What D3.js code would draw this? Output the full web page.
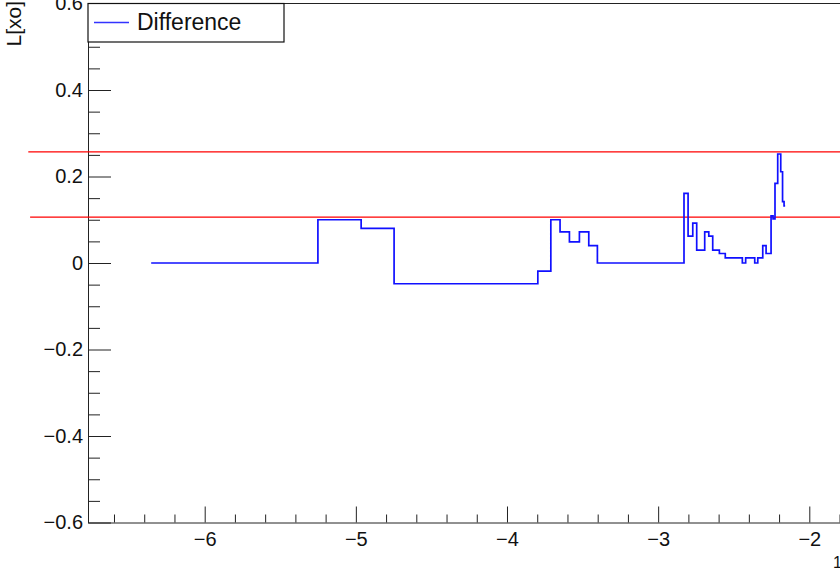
<!DOCTYPE html>
<html>
<head>
<meta charset="utf-8">
<script src="https://cdn.jsdelivr.net/npm/d3@7"></script>
<style>
  html, body { margin: 0; padding: 0; background: #fff; }
  svg { display: block; }
  text { font-family: "Liberation Sans", Arial, Helvetica, sans-serif; fill: #111; }
</style>
</head>
<body>
<svg id="chart" width="840" height="571"></svg>
<script>
// Step histogram: bin edges and the value held over each bin
const binEdges = [-6.354, -5.251, -4.965, -4.747, -3.796, -3.710, -3.649, -3.587, -3.521, -3.459,
  -3.402, -2.829, -2.802, -2.771, -2.745, -2.692, -2.665, -2.639, -2.595, -2.556,
  -2.443, -2.421, -2.361, -2.341, -2.308, -2.286, -2.253, -2.240, -2.227, -2.209,
  -2.189, -2.177, -2.167, -2.160];
const binValues = [0, 0.10, 0.08, -0.048, -0.019, 0.10, 0.072, 0.049, 0.072, 0.04,
  0, 0.161, 0.062, 0.092, 0.03, 0.072, 0.062, 0.03, 0.022, 0.012,
  0, 0.012, 0, 0.012, 0.04, 0.022, 0.109, 0.102, 0.184, 0.252,
  0.211, 0.142, 0.132];

// Horizontal reference levels and where each one starts
const refLevels = [0.257, 0.106];
const refStarts = [-7.167, -7.155];

const xMajorTicks = [-6, -5, -4, -3, -2];
const yMajorTicks = [-0.6, -0.4, -0.2, 0, 0.2, 0.4, 0.6];
const seriesName = "Difference";
const yTitle = "L[xo]";

const svg = d3.select("#chart");
const frameLeft = 88, frameBottom = 522.5, frameTop = 3.5, frameRight = 900;

const x = d3.scaleLinear().domain([-6.772, -1.40]).range([frameLeft, frameRight]);
const y = d3.scaleLinear().domain([-0.6, 0.6]).range([frameBottom, frameTop]);

const fmtY = d => d === 0 ? "0" : d3.format(".1f")(d);
const fmtX = d3.format("d");

// Top edge of the frame
svg.append("line").attr("x1", frameLeft).attr("x2", 840).attr("y1", frameTop).attr("y2", frameTop)
  .attr("stroke", "#222").attr("stroke-width", 1);

// Minor ticks
const xMinor = d3.range(-6.6, -1.5, 0.2).filter(v => Math.abs(v - Math.round(v)) > 1e-6);
const yMinor = d3.range(-0.55, 0.6, 0.05).filter(v => Math.abs(v * 5 - Math.round(v * 5)) > 1e-6);

svg.append("g").attr("transform", `translate(0,${frameBottom})`)
  .call(d3.axisBottom(x).tickValues(xMinor).tickSizeInner(-8).tickSizeOuter(0).tickFormat(""))
  .call(g => g.select(".domain").remove())
  .selectAll("line").attr("stroke", "#222");

svg.append("g").attr("transform", `translate(${frameLeft},0)`)
  .call(d3.axisLeft(y).tickValues(yMinor).tickSizeInner(-12).tickSizeOuter(0).tickFormat(""))
  .call(g => g.select(".domain").remove())
  .selectAll("line").attr("stroke", "#222");

// Major axes
const xAxis = svg.append("g").attr("transform", `translate(0,${frameBottom})`)
  .call(d3.axisBottom(x).tickValues(xMajorTicks).tickFormat(fmtX)
    .tickSizeInner(-16).tickSizeOuter(0).tickPadding(9));
xAxis.select(".domain").attr("stroke", "#222");
xAxis.selectAll("line").attr("stroke", "#222");
xAxis.selectAll("text").attr("font-size", 20).attr("font-family", "Liberation Sans, Arial, sans-serif").attr("fill", "#111");

const yAxis = svg.append("g").attr("transform", `translate(${frameLeft},0)`)
  .call(d3.axisLeft(y).tickValues(yMajorTicks).tickFormat(fmtY)
    .tickSizeInner(-23).tickSizeOuter(0).tickPadding(5));
yAxis.select(".domain").attr("stroke", "#222");
yAxis.selectAll("line").attr("stroke", "#222");
yAxis.selectAll("text").attr("font-size", 20).attr("font-family", "Liberation Sans, Arial, sans-serif").attr("fill", "#111");

// Reference levels
svg.selectAll("line.ref").data(refLevels).join("line").attr("class", "ref")
  .attr("x1", (d, i) => x(refStarts[i])).attr("x2", 840)
  .attr("y1", d => y(d)).attr("y2", d => y(d))
  .attr("stroke", "#ff0000").attr("stroke-width", 1.3);

// Step line
const pts = binValues.map((v, i) => [binEdges[i], v]);
pts.push([binEdges[binEdges.length - 1], binValues[binValues.length - 1]]);
const step = d3.line().x(d => x(d[0])).y(d => y(d[1])).curve(d3.curveStepAfter);
svg.append("path").datum(pts).attr("d", step)
  .attr("fill", "none").attr("stroke", "#1010ff").attr("stroke-width", 1.7);

// Legend
const lg = svg.append("g");
lg.append("rect").attr("x", frameLeft).attr("y", frameTop).attr("width", 196).attr("height", 38.5)
  .attr("fill", "#fff").attr("stroke", "#111").attr("stroke-width", 1.2);
lg.append("line").attr("x1", 94).attr("x2", 129).attr("y1", 22.5).attr("y2", 22.5)
  .attr("stroke", "#3333ff").attr("stroke-width", 1.6);
lg.append("text").attr("x", 137).attr("y", 30).attr("font-size", 23).text(seriesName);

// Axis title
svg.append("text").attr("transform", "translate(21,1) rotate(-90)")
  .attr("text-anchor", "end").attr("font-size", 21).text(yTitle);

// Edge of the x axis title
svg.append("text").attr("x", 833).attr("y", 568).attr("font-size", 16).text("1");
</script>
</body>
</html>
